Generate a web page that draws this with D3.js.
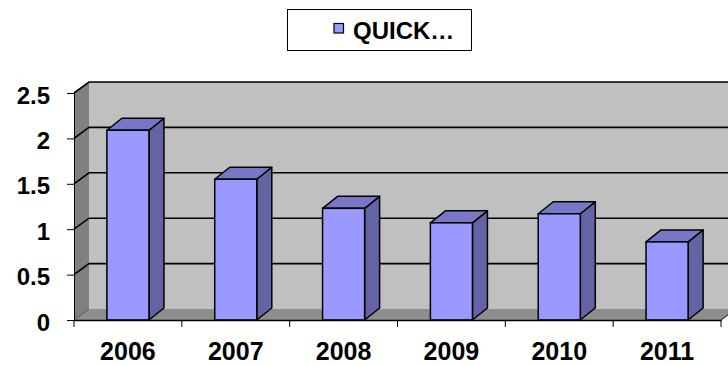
<!DOCTYPE html>
<html>
<head>
<meta charset="utf-8">
<script src="https://cdn.jsdelivr.net/npm/d3@7/dist/d3.min.js"></script>
<style>
  body { margin: 0; background: #fff; }
  text { font-family: Arial, "Liberation Sans", sans-serif; font-weight: bold; fill: #000; }
</style>
</head>
<body>
<div id="chart"></div>
<script>
const WIDTH = 728;
const HEIGHT = 365;

// data
const years = ["2006", "2007", "2008", "2009", "2010", "2011"];
const values = [2.09, 1.55, 1.23, 1.07, 1.17, 0.86];
const yTicks = [0, 0.5, 1, 1.5, 2, 2.5];
const seriesName = "QUICK…";

// plot box (front plane) and depth offset
const plotLeft = 74, plotRight = 721, plotBottom = 320, plotTop = 93;
const DX = 15, DY = -11;

let svg = d3
  .select("#chart")
  .append("svg")
  .attr("width", WIDTH)
  .attr("height", HEIGHT);

const y = d3.scaleLinear().domain([0, 2.5]).range([plotBottom, plotTop]);
//category slots for ticks
const xCat = d3.scaleBand().domain(years).range([plotLeft, plotRight]).padding(0);
//bars inside the slots
const xBar = d3.scaleBand().domain(years).range([plotLeft, plotRight])
  .paddingInner(0.61).paddingOuter(0.305);

const pts = (arr) => arr.map((p) => p.join(",")).join(" ");

//back wall
svg.append("polygon")
  .attr("points", pts([[plotLeft + DX, plotTop + DY], [plotRight + DX, plotTop + DY], [plotRight + DX, plotBottom + DY], [plotLeft + DX, plotBottom + DY]]))
  .attr("fill", "#c0c0c0");

//left side wall
svg.append("polygon")
  .attr("points", pts([[plotLeft, plotTop], [plotLeft + DX, plotTop + DY], [plotLeft + DX, plotBottom + DY], [plotLeft, plotBottom]]))
  .attr("fill", "#808080");

//floor
svg.append("polygon")
  .attr("points", pts([[plotLeft, plotBottom], [plotLeft + DX, plotBottom + DY], [plotRight + DX, plotBottom + DY], [plotRight, plotBottom]]))
  .attr("fill", "#8e8e8e");

//gridlines on walls
let grid = svg.append("g").attr("class", "grid");
yTicks.filter((t) => t > 0).forEach((t) => {
  grid.append("polyline")
    .attr("points", pts([[plotLeft, y(t)], [plotLeft + DX, y(t) + DY], [plotRight + DX, y(t) + DY]]))
    .attr("fill", "none")
    .attr("stroke", "#000")
    .attr("stroke-width", 1.6);
});
//floor edges
svg.append("line")
  .attr("x1", plotLeft).attr("y1", plotBottom).attr("x2", plotLeft + DX).attr("y2", plotBottom + DY)
  .attr("stroke", "#555").attr("stroke-width", 1);
svg.append("line")
  .attr("x1", plotRight).attr("y1", plotBottom).attr("x2", plotRight + DX).attr("y2", plotBottom + DY)
  .attr("stroke", "#000").attr("stroke-width", 1);

//bars
const BDX = 15, BDY = -12;
let bars = svg.append("g").attr("class", "bars")
  .selectAll("g")
  .data(years.map((yr, i) => ({ year: yr, value: values[i] })))
  .enter()
  .append("g");

bars.append("polygon") // side
  .attr("points", (d) => {
    const x1 = xBar(d.year) + xBar.bandwidth();
    return pts([[x1, y(d.value)], [x1 + BDX, y(d.value) + BDY], [x1 + BDX, plotBottom + BDY], [x1, plotBottom]]);
  })
  .attr("fill", "#6464a4")
  .attr("stroke", "#000")
  .attr("stroke-width", 1.5)
  .attr("stroke-linejoin", "round");

bars.append("polygon") // top
  .attr("points", (d) => {
    const x0 = xBar(d.year), x1 = x0 + xBar.bandwidth(), yy = y(d.value);
    return pts([[x0, yy], [x0 + BDX, yy + BDY], [x1 + BDX, yy + BDY], [x1, yy]]);
  })
  .attr("fill", "#7777c6")
  .attr("stroke", "#000")
  .attr("stroke-width", 1.5)
  .attr("stroke-linejoin", "round");

bars.append("rect") // front
  .attr("x", (d) => xBar(d.year))
  .attr("y", (d) => y(d.value))
  .attr("width", xBar.bandwidth())
  .attr("height", (d) => plotBottom - y(d.value))
  .attr("fill", "#9999ff")
  .attr("stroke", "#000")
  .attr("stroke-width", 1.5);

//y axis
let yAxis = svg.append("g")
  .attr("transform", `translate(${plotLeft},0)`)
  .call(d3.axisLeft(y).tickValues(yTicks).tickSize(7).tickPadding(17).tickFormat(d3.format("")));
yAxis.select(".domain").attr("stroke", "#000").attr("stroke-width", 1);
yAxis.selectAll(".tick line").attr("stroke", "#000");
yAxis.selectAll("text")
  .attr("font-size", "24px")
  .attr("dy", "0.42em")
  .attr("font-family", "Arial, 'Liberation Sans', sans-serif");

//x axis
let xAxis = svg.append("g")
  .attr("transform", `translate(0,${plotBottom})`)
  .call(d3.axisBottom(xCat).tickSize(0).tickPadding(0));
xAxis.select(".domain").attr("stroke", "#000").attr("stroke-width", 1.5);
xAxis.selectAll("text")
  .attr("font-size", "25px")
  .attr("y", 40)
  .attr("dy", 0)
  .attr("font-family", "Arial, 'Liberation Sans', sans-serif");
//ticks at category boundaries
xAxis.selectAll(".sep")
  .data(years.map((d) => xCat(d)).concat([plotRight]))
  .enter()
  .append("line")
  .attr("class", "sep")
  .attr("x1", (d) => d).attr("x2", (d) => d)
  .attr("y1", 0).attr("y2", 7)
  .attr("stroke", "#000");

//legend
let legend = svg.append("g").attr("class", "legend");
legend.append("rect")
  .attr("x", 287.5).attr("y", 9.5).attr("width", 184).attr("height", 41)
  .attr("fill", "#fff").attr("stroke", "#000").attr("stroke-width", 1);
legend.append("rect")
  .attr("x", 334).attr("y", 23.5).attr("width", 9.5).attr("height", 9.5)
  .attr("fill", "#9999ff").attr("stroke", "#000").attr("stroke-width", 1.2);
legend.append("text")
  .attr("x", 353).attr("y", 38.5)
  .attr("font-size", "24px")
  .text(seriesName);
</script>
</body>
</html>
